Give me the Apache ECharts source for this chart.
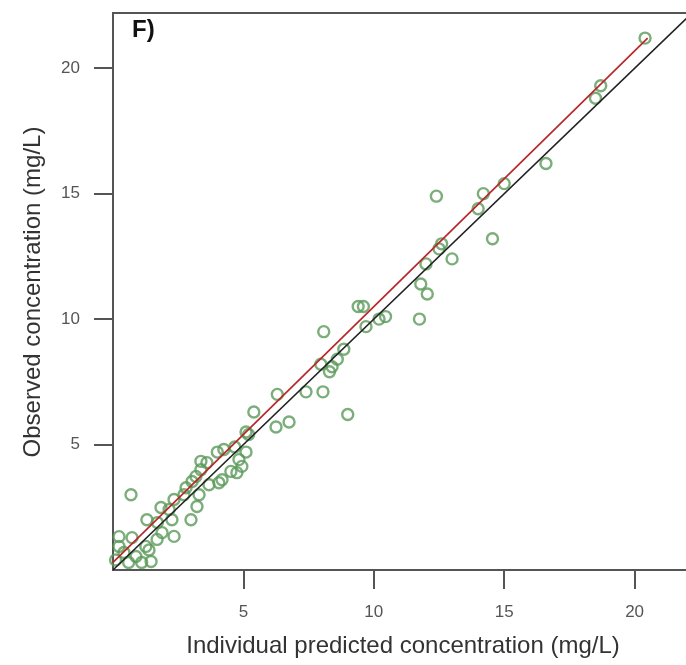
<!DOCTYPE html>
<html>
<head>
<meta charset="utf-8">
<script src="https://cdn.jsdelivr.net/npm/echarts@6/dist/echarts.min.js"></script>
<style>
html,body{margin:0;padding:0;background:#fff;}
#chart{width:686px;height:665px;}
</style>
</head>
<body>
<div id="chart"></div>
<script>
// Individual predicted concentration (mg/L)
const predicted = [20.4,18.7,18.5,16.6,15.0,14.2,14.0,12.4,14.55,12.6,12.5,13.0,12.0,11.8,12.05,11.75,9.4,9.6,10.2,10.45,9.7,8.08,8.85,8.6,7.97,8.4,8.3,7.4,8.05,9.0,6.3,6.75,6.25,5.4,5.1,5.2,4.67,4.25,4.0,5.1,4.83,3.37,3.6,4.94,3.37,4.52,4.18,4.75,3.18,2.8,3.03,3.68,3.3,4.06,2.72,2.34,3.22,2.99,1.84,2.15,2.26,1.3,1.7,2.34,1.88,1.69,0.73,1.26,1.46,0.69,0.23,0.23,0.42,0.1,0.88,0.6,1.1,1.38];
// Observed concentration (mg/L)
const observed = [21.2,19.3,18.8,16.2,15.4,15.0,14.4,14.9,13.2,13.0,12.8,12.4,12.2,11.4,11.0,10.0,10.5,10.5,10.0,10.1,9.7,9.5,8.8,8.4,8.2,8.1,7.9,7.1,7.1,6.2,7.0,5.9,5.7,6.3,5.5,5.4,4.9,4.8,4.7,4.7,4.4,4.33,4.28,4.13,4.0,3.93,3.6,3.88,3.73,3.28,3.53,3.4,3.0,3.48,3.0,2.81,2.53,2.0,2.49,2.41,2.0,2.0,1.89,1.34,1.49,1.22,1.29,0.94,0.34,3.0,1.33,0.94,0.7,0.4,0.54,0.3,0.3,0.8];
// Identity line and fitted regression line
const identityX = [0, 22.2];
const identityY = [0, 22.2];
const fitX = [0, 20.5];
const fitY = [0.3, 21.2];
// Tick labels
const tickValues = [5, 10, 15, 20];
const xTitle = 'Individual predicted concentration (mg/L)';
const yTitle = 'Observed concentration (mg/L)';
const panelLabel = 'F)';

const pts = predicted.map((x, i) => [x, observed[i]]);
const idLine = identityX.map((x, i) => [x, identityY[i]]);
const fitLine = fitX.map((x, i) => [x, fitY[i]]);

const FONT = 'Liberation Sans, Arial, sans-serif';
const chart = echarts.init(document.getElementById('chart'), null, {renderer: 'canvas'});
const axisCommon = {
  type: 'value',
  min: 0,
  max: 22.2,
  interval: 5,
  splitLine: {show: false},
  axisLine: {show: true, lineStyle: {color: '#555', width: 2}},
  axisTick: {show: true, length: 19, lineStyle: {color: '#555', width: 2}, customValues: tickValues},
  axisLabel: {color: '#555', fontSize: 17, fontFamily: FONT, customValues: tickValues}
};
chart.setOption({
  animation: false,
  backgroundColor: '#fff',
  grid: {left: 113, top: 13, right: -6, bottom: 95, outerBoundsMode: 'none', containLabel: false, show: true, borderColor: '#555', borderWidth: 2},
  xAxis: Object.assign({}, axisCommon, {
    axisLabel: Object.assign({}, axisCommon.axisLabel, {margin: 34})
  }),
  yAxis: Object.assign({}, axisCommon, {
    axisLabel: Object.assign({}, axisCommon.axisLabel, {margin: 33})
  }),
  graphic: [
    {type: 'text', x: 132, y: 30, style: {text: panelLabel, fontSize: 24, fontWeight: 'bold', fill: '#111', verticalAlign: 'middle', fontFamily: FONT}},
    {type: 'text', x: 403, y: 646, style: {text: xTitle, fontSize: 24, fill: '#333', align: 'center', verticalAlign: 'middle', fontFamily: FONT}},
    {type: 'text', x: 33, y: 292, rotation: Math.PI / 2, style: {text: yTitle, fontSize: 24, fill: '#333', align: 'center', verticalAlign: 'middle', fontFamily: FONT}}
  ],
  series: [
    {
      type: 'scatter',
      data: pts,
      symbol: 'circle',
      symbolSize: 11,
      itemStyle: {color: 'rgba(0,0,0,0)', borderColor: '#5a9a5a', borderWidth: 2.4},
      z: 2
    },
    {
      type: 'line',
      data: idLine,
      symbol: 'none',
      lineStyle: {color: '#222', width: 1.6},
      z: 3
    },
    {
      type: 'line',
      data: fitLine,
      symbol: 'none',
      lineStyle: {color: '#b8282a', width: 1.7},
      z: 4
    }
  ]
});
</script>
</body>
</html>
